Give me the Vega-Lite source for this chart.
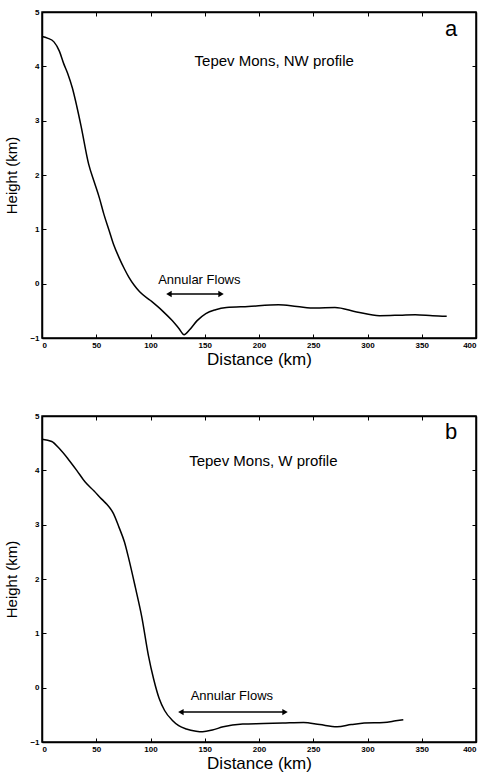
{
  "$schema": "https://vega.github.io/schema/vega-lite/v6.json",
  "padding": {"left": 4, "top": 7, "right": 6, "bottom": 4},
  "background": "white",
  "spacing": 43,
  "datasets": {
    "profile": [
      {"panel": "a", "distance": 0, "height": 4.55},
      {"panel": "a", "distance": 5, "height": 4.52},
      {"panel": "a", "distance": 11, "height": 4.45},
      {"panel": "a", "distance": 16, "height": 4.28},
      {"panel": "a", "distance": 20, "height": 4.05},
      {"panel": "a", "distance": 24, "height": 3.85},
      {"panel": "a", "distance": 28, "height": 3.6},
      {"panel": "a", "distance": 32, "height": 3.27},
      {"panel": "a", "distance": 36, "height": 2.9},
      {"panel": "a", "distance": 43, "height": 2.2},
      {"panel": "a", "distance": 48, "height": 1.88},
      {"panel": "a", "distance": 53, "height": 1.57},
      {"panel": "a", "distance": 57, "height": 1.28},
      {"panel": "a", "distance": 62, "height": 0.97},
      {"panel": "a", "distance": 66, "height": 0.72},
      {"panel": "a", "distance": 71, "height": 0.48},
      {"panel": "a", "distance": 76, "height": 0.27},
      {"panel": "a", "distance": 80, "height": 0.12},
      {"panel": "a", "distance": 85, "height": -0.03},
      {"panel": "a", "distance": 90, "height": -0.15},
      {"panel": "a", "distance": 100, "height": -0.31},
      {"panel": "a", "distance": 111, "height": -0.5},
      {"panel": "a", "distance": 120, "height": -0.68},
      {"panel": "a", "distance": 126, "height": -0.82},
      {"panel": "a", "distance": 131, "height": -0.94},
      {"panel": "a", "distance": 136, "height": -0.85},
      {"panel": "a", "distance": 143, "height": -0.68},
      {"panel": "a", "distance": 151, "height": -0.55},
      {"panel": "a", "distance": 160, "height": -0.48},
      {"panel": "a", "distance": 170, "height": -0.44},
      {"panel": "a", "distance": 190, "height": -0.42},
      {"panel": "a", "distance": 218, "height": -0.39},
      {"panel": "a", "distance": 235, "height": -0.42},
      {"panel": "a", "distance": 252, "height": -0.45},
      {"panel": "a", "distance": 270, "height": -0.44},
      {"panel": "a", "distance": 290, "height": -0.52},
      {"panel": "a", "distance": 311, "height": -0.59},
      {"panel": "a", "distance": 330, "height": -0.58},
      {"panel": "a", "distance": 344, "height": -0.57},
      {"panel": "a", "distance": 360, "height": -0.59},
      {"panel": "a", "distance": 373, "height": -0.6},
      {"panel": "b", "distance": 0, "height": 4.57},
      {"panel": "b", "distance": 9, "height": 4.53},
      {"panel": "b", "distance": 16, "height": 4.4},
      {"panel": "b", "distance": 24, "height": 4.21},
      {"panel": "b", "distance": 32, "height": 4.0},
      {"panel": "b", "distance": 40, "height": 3.78},
      {"panel": "b", "distance": 48, "height": 3.62},
      {"panel": "b", "distance": 55, "height": 3.47},
      {"panel": "b", "distance": 60, "height": 3.37},
      {"panel": "b", "distance": 66, "height": 3.2},
      {"panel": "b", "distance": 71, "height": 2.95},
      {"panel": "b", "distance": 76, "height": 2.68},
      {"panel": "b", "distance": 80, "height": 2.37},
      {"panel": "b", "distance": 86, "height": 1.85},
      {"panel": "b", "distance": 92, "height": 1.3},
      {"panel": "b", "distance": 98, "height": 0.6},
      {"panel": "b", "distance": 103, "height": 0.15},
      {"panel": "b", "distance": 108, "height": -0.2},
      {"panel": "b", "distance": 113, "height": -0.42},
      {"panel": "b", "distance": 120, "height": -0.6},
      {"panel": "b", "distance": 126, "height": -0.7},
      {"panel": "b", "distance": 133, "height": -0.76},
      {"panel": "b", "distance": 142, "height": -0.8},
      {"panel": "b", "distance": 148, "height": -0.81},
      {"panel": "b", "distance": 157, "height": -0.78},
      {"panel": "b", "distance": 167, "height": -0.72},
      {"panel": "b", "distance": 185, "height": -0.67},
      {"panel": "b", "distance": 204, "height": -0.66},
      {"panel": "b", "distance": 222, "height": -0.65},
      {"panel": "b", "distance": 241, "height": -0.64},
      {"panel": "b", "distance": 256, "height": -0.68},
      {"panel": "b", "distance": 272, "height": -0.72},
      {"panel": "b", "distance": 285, "height": -0.68},
      {"panel": "b", "distance": 297, "height": -0.65},
      {"panel": "b", "distance": 315, "height": -0.64},
      {"panel": "b", "distance": 326, "height": -0.61},
      {"panel": "b", "distance": 333, "height": -0.59}
    ],
    "arrows": [
      {"panel": "a", "end": "left", "distance": 117, "height": -0.19},
      {"panel": "a", "end": "right", "distance": 165, "height": -0.19},
      {"panel": "b", "end": "left", "distance": 128, "height": -0.45},
      {"panel": "b", "end": "right", "distance": 224, "height": -0.45}
    ],
    "notes": [
      {"panel": "a", "kind": "title", "distance": 214, "height": 4.1, "text": "Tepev Mons, NW profile"},
      {"panel": "a", "kind": "letter", "distance": 377, "height": 4.68, "text": "a"},
      {"panel": "a", "kind": "flow", "distance": 145, "height": 0.07, "text": "Annular Flows"},
      {"panel": "b", "kind": "title", "distance": 204, "height": 4.18, "text": "Tepev Mons, W profile"},
      {"panel": "b", "kind": "letter", "distance": 377, "height": 4.7, "text": "b"},
      {"panel": "b", "kind": "flow", "distance": 175, "height": -0.15, "text": "Annular Flows"}
    ]
  },
  "vconcat": [
    {
      "width": 434,
      "height": 326,
      "resolve": {"axis": {"x": "independent", "y": "independent"}},
      "layer": [
        {
          "data": {"name": "profile"},
          "transform": [{"filter": "datum.panel === 'a'"}],
          "mark": {"type": "line", "color": "black", "strokeWidth": 1.5, "interpolate": "monotone"},
          "encoding": {
            "x": {"field": "distance", "type": "quantitative", "scale": {"domain": [0, 400], "nice": false}, "axis": {"title": "Distance (km)", "values": [0, 50, 100, 150, 200, 250, 300, 350, 400]}},
            "y": {"field": "height", "type": "quantitative", "scale": {"domain": [-1, 5], "nice": false}, "axis": {"title": "Height (km)", "values": [-1, 0, 1, 2, 3, 4, 5]}}
          }
        },
        {
          "data": {"name": "arrows"},
          "transform": [{"filter": "datum.panel === 'a'"}],
          "mark": {"type": "line", "color": "black", "strokeWidth": 1.5},
          "encoding": {
            "x": {"field": "distance", "type": "quantitative", "axis": null},
            "y": {"field": "height", "type": "quantitative", "axis": null}
          }
        },
        {
          "data": {"name": "arrows"},
          "transform": [{"filter": "datum.panel === 'a' && datum.end === 'left'"}],
          "mark": {"type": "point", "shape": "triangle-left", "filled": true, "color": "black", "size": 40, "opacity": 1},
          "encoding": {
            "x": {"field": "distance", "type": "quantitative", "axis": null},
            "y": {"field": "height", "type": "quantitative", "axis": null}
          }
        },
        {
          "data": {"name": "arrows"},
          "transform": [{"filter": "datum.panel === 'a' && datum.end === 'right'"}],
          "mark": {"type": "point", "shape": "triangle-right", "filled": true, "color": "black", "size": 40, "opacity": 1},
          "encoding": {
            "x": {"field": "distance", "type": "quantitative", "axis": null},
            "y": {"field": "height", "type": "quantitative", "axis": null}
          }
        },
        {
          "data": {"name": "notes"},
          "transform": [{"filter": "datum.panel === 'a' && datum.kind === 'title'"}],
          "mark": {"type": "text", "font": "Liberation Sans", "fontSize": 15, "color": "black", "align": "center", "baseline": "middle"},
          "encoding": {
            "x": {"field": "distance", "type": "quantitative", "axis": {"orient": "top", "labels": false, "title": null, "values": [0, 50, 100, 150, 200, 250, 300, 350, 400]}},
            "y": {"field": "height", "type": "quantitative", "axis": {"orient": "right", "labels": false, "title": null, "values": [-1, 0, 1, 2, 3, 4, 5]}},
            "text": {"field": "text"}
          }
        },
        {
          "data": {"name": "notes"},
          "transform": [{"filter": "datum.panel === 'a' && datum.kind === 'letter'"}],
          "mark": {"type": "text", "font": "Liberation Sans", "fontSize": 22, "color": "black", "align": "center", "baseline": "middle"},
          "encoding": {
            "x": {"field": "distance", "type": "quantitative", "axis": null},
            "y": {"field": "height", "type": "quantitative", "axis": null},
            "text": {"field": "text"}
          }
        },
        {
          "data": {"name": "notes"},
          "transform": [{"filter": "datum.panel === 'a' && datum.kind === 'flow'"}],
          "mark": {"type": "text", "font": "Liberation Sans", "fontSize": 13, "color": "black", "align": "center", "baseline": "middle"},
          "encoding": {
            "x": {"field": "distance", "type": "quantitative", "axis": null},
            "y": {"field": "height", "type": "quantitative", "axis": null},
            "text": {"field": "text"}
          }
        }
      ]
    },
    {
      "width": 434,
      "height": 326,
      "resolve": {"axis": {"x": "independent", "y": "independent"}},
      "layer": [
        {
          "data": {"name": "profile"},
          "transform": [{"filter": "datum.panel === 'b'"}],
          "mark": {"type": "line", "color": "black", "strokeWidth": 1.5, "interpolate": "monotone"},
          "encoding": {
            "x": {"field": "distance", "type": "quantitative", "scale": {"domain": [0, 400], "nice": false}, "axis": {"title": "Distance (km)", "values": [0, 50, 100, 150, 200, 250, 300, 350, 400]}},
            "y": {"field": "height", "type": "quantitative", "scale": {"domain": [-1, 5], "nice": false}, "axis": {"title": "Height (km)", "values": [-1, 0, 1, 2, 3, 4, 5]}}
          }
        },
        {
          "data": {"name": "arrows"},
          "transform": [{"filter": "datum.panel === 'b'"}],
          "mark": {"type": "line", "color": "black", "strokeWidth": 1.5},
          "encoding": {
            "x": {"field": "distance", "type": "quantitative", "axis": null},
            "y": {"field": "height", "type": "quantitative", "axis": null}
          }
        },
        {
          "data": {"name": "arrows"},
          "transform": [{"filter": "datum.panel === 'b' && datum.end === 'left'"}],
          "mark": {"type": "point", "shape": "triangle-left", "filled": true, "color": "black", "size": 40, "opacity": 1},
          "encoding": {
            "x": {"field": "distance", "type": "quantitative", "axis": null},
            "y": {"field": "height", "type": "quantitative", "axis": null}
          }
        },
        {
          "data": {"name": "arrows"},
          "transform": [{"filter": "datum.panel === 'b' && datum.end === 'right'"}],
          "mark": {"type": "point", "shape": "triangle-right", "filled": true, "color": "black", "size": 40, "opacity": 1},
          "encoding": {
            "x": {"field": "distance", "type": "quantitative", "axis": null},
            "y": {"field": "height", "type": "quantitative", "axis": null}
          }
        },
        {
          "data": {"name": "notes"},
          "transform": [{"filter": "datum.panel === 'b' && datum.kind === 'title'"}],
          "mark": {"type": "text", "font": "Liberation Sans", "fontSize": 15, "color": "black", "align": "center", "baseline": "middle"},
          "encoding": {
            "x": {"field": "distance", "type": "quantitative", "axis": {"orient": "top", "labels": false, "title": null, "values": [0, 50, 100, 150, 200, 250, 300, 350, 400]}},
            "y": {"field": "height", "type": "quantitative", "axis": {"orient": "right", "labels": false, "title": null, "values": [-1, 0, 1, 2, 3, 4, 5]}},
            "text": {"field": "text"}
          }
        },
        {
          "data": {"name": "notes"},
          "transform": [{"filter": "datum.panel === 'b' && datum.kind === 'letter'"}],
          "mark": {"type": "text", "font": "Liberation Sans", "fontSize": 22, "color": "black", "align": "center", "baseline": "middle"},
          "encoding": {
            "x": {"field": "distance", "type": "quantitative", "axis": null},
            "y": {"field": "height", "type": "quantitative", "axis": null},
            "text": {"field": "text"}
          }
        },
        {
          "data": {"name": "notes"},
          "transform": [{"filter": "datum.panel === 'b' && datum.kind === 'flow'"}],
          "mark": {"type": "text", "font": "Liberation Sans", "fontSize": 13, "color": "black", "align": "center", "baseline": "middle"},
          "encoding": {
            "x": {"field": "distance", "type": "quantitative", "axis": null},
            "y": {"field": "height", "type": "quantitative", "axis": null},
            "text": {"field": "text"}
          }
        }
      ]
    }
  ],
  "config": {
    "view": {"stroke": "black", "strokeWidth": 1.5},
    "axis": {
      "grid": false,
      "domainColor": "black",
      "domainWidth": 1.5,
      "tickColor": "black",
      "tickSize": -4,
      "labelPadding": 7,
      "labelFont": "Liberation Sans",
      "labelFontWeight": "bold",
      "labelFontSize": 8,
      "labelColor": "black",
      "titleFont": "Liberation Sans",
      "titleFontWeight": "normal",
      "titleColor": "black"
    },
    "axisX": {"titleFontSize": 17, "titlePadding": 2},
    "axisY": {"titleFontSize": 15, "titlePadding": 10}
  }
}
